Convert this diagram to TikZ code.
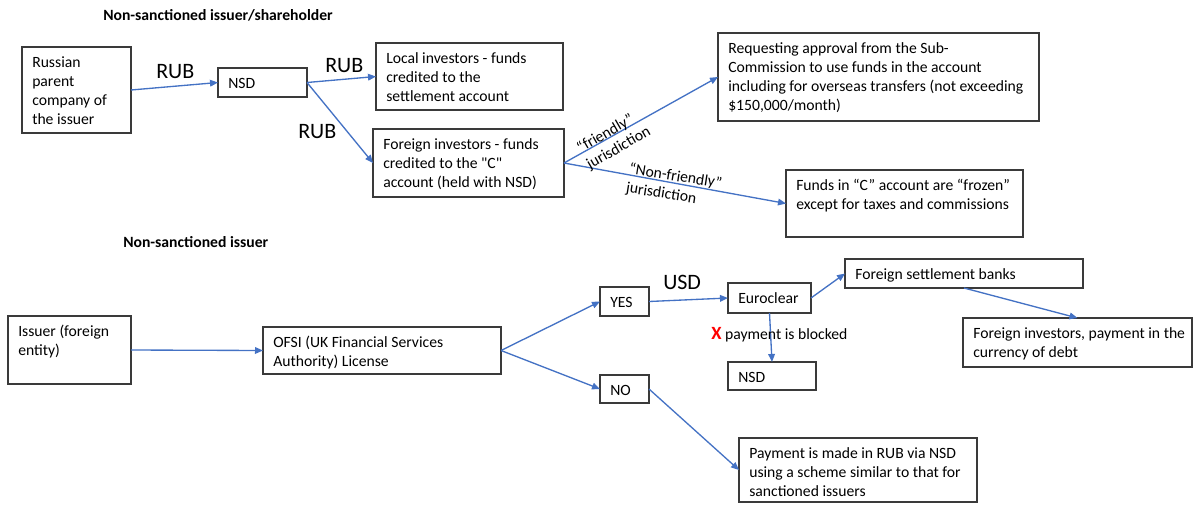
\documentclass[tikz,border=0pt]{standalone}
\usepackage{fontspec}
\setmainfont{Carlito}[Ligatures=TeXOff]
\usetikzlibrary{arrows.meta,calc}
\newlength\px \setlength\px{0.75pt}
\definecolor{arrblue}{HTML}{4472C4}
\definecolor{boxc}{HTML}{3A3A3A}
\newcommand\bodyfont{\fontsize{11.75pt}{14.25pt}\selectfont}
\newcommand\bigfont{\fontsize{16.5pt}{19pt}\selectfont}
\tikzset{
  box/.style={draw=boxc, line width=0.9pt, anchor=north west, inner sep=0pt, outer sep=0pt},
  boxtext/.style={anchor=north west, inner sep=0pt, align=left, font=\bodyfont},
  arr/.style={draw=arrblue, line width=1pt, -{Triangle[length=6pt,width=5pt]}},
  ttl/.style={anchor=base west, inner sep=0pt, font=\bodyfont\bfseries},
  cur/.style={anchor=base west, inner sep=0pt, font=\bigfont},
  lbl/.style={inner sep=0pt, align=left, font=\bodyfont}
}
\newcommand\bx[6]{%
  \node[box, minimum width=#4\px, minimum height=#5\px] (#1) at (#2,#3) {};
  \node[boxtext] (#1t) at ($(#1.north west)+(10,0)$) {\rule{0pt}{20\px}#6};}
\begin{document}
\begin{tikzpicture}[x=0.75pt, y=-0.75pt]
\useasboundingbox (0,0) rectangle (1195,504);
% titles
\node[ttl] (t1) at (103,20) {Non-sanctioned issuer/shareholder};
\node[ttl] (t2) at (123,247) {Non-sanctioned issuer};
% top boxes
\bx{rus}{22}{47}{109}{86}{Russian\\parent\\company of\\the issuer}
\bx{nsd}{218}{68}{89}{29}{NSD}
\bx{loc}{376}{43}{187}{67}{Local investors - funds\\credited to the\\settlement account}
\bx{for}{373}{129}{191}{68}{Foreign investors - funds\\credited to the "C"\\account (held with NSD)}
\bx{req}{718}{33}{321}{88}{Requesting approval from the Sub-\\Commission to use funds in the account\\including for overseas transfers (not exceeding\\\$150,000/month)}
\bx{frz}{786}{170}{237}{67}{Funds in “C” account are “frozen”\\except for taxes and commissions}
% bottom boxes
\bx{iss}{8}{316}{123}{68}{Issuer (foreign\\entity)}
\bx{ofsi}{263}{327}{238}{47}{OFSI (UK Financial Services\\Authority) License}
\bx{yes}{600}{287}{49}{29}{YES}
\bx{no}{600}{375}{49}{28}{NO}
\bx{euro}{728}{283}{83}{30}{Euroclear}
\bx{nsdb}{728}{362}{88}{28}{NSD}
\bx{fsb}{845}{259}{238}{29}{Foreign settlement banks}
\bx{fi}{963}{318}{229}{49}{Foreign investors, payment in the\\currency of debt}
\bx{pay}{739}{438}{238}{64}{Payment is made in RUB via NSD\\using a scheme similar to that for\\sanctioned issuers}
% currency labels
\node[cur] (r1) at (156,78) {RUB};
\node[cur] (r2) at (325,72) {RUB};
\node[cur] (r3) at (298,138) {RUB};
\node[cur] (u1) at (663,289) {USD};
% connectors
\draw[arr] (rus.east) -- (nsd.west);
\draw[arr] (nsd.east) -- (loc.west);
\draw[arr] (nsd.east) -- (for.west);
\draw[arr] (for.east) -- (req.west);
\draw[arr] (for.east) -- (frz.west);
\draw[arr] (iss.east) -- (ofsi.west);
\draw[arr] (ofsi.east) -- (yes.west);
\draw[arr] (ofsi.east) -- (no.west);
\draw[arr] (yes.east) -- (euro.west);
\draw[arr] (euro.east) -- (fsb.west);
\draw[arr] (euro.south) -- (nsdb.north);
\draw[arr] (fsb.south) -- (fi.north);
\draw[arr] (no.east) -- (pay.west);
% jurisdiction labels
\node[lbl, rotate=30] (fj) at (614,140) {“friendly”\\jurisdiction};
\node[lbl, rotate=-9] (nfj) at (674,186) {“Non-friendly”\\jurisdiction};
% blocked label
\node[anchor=base west, inner sep=0pt, font=\bodyfont] (blk) at (711,339) {\textcolor{red}{\fontsize{14pt}{16pt}\selectfont\bfseries X} payment is blocked};
\end{tikzpicture}
\end{document}
